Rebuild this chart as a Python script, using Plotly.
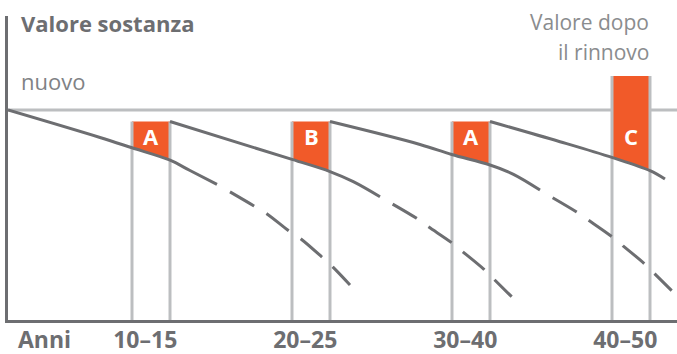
import plotly.graph_objects as go

W, H = 677, 354

# ---- data (x: schematic years from the value axis, y: asset value, 100 = new) ----
new_value = 100
block_start = [7.75, 17.75, 27.75, 37.75]
block_width = 2.375
block_top = [94.5, 94.5, 94.5, 116.2]
block_bottom_left = [82.0, 76.5, 78.8, 77.3]
block_bottom_right = [76.2, 70.7, 73.8, 71.1]
block_letters = ["A", "B", "A", "C"]
period_labels = ["10–15", "20–25", "30–40", "40–50"]

curve1_x = [0, 5.75, 7.75, 10.09, 11.375, 13.06]
curve1_y = [100, 86.9, 82.0, 76.2, 71.2, 64.6]
curve1_dash_x = [13.875, 15.375, 16.19, 17.56, 18.31, 19.69, 20.31, 21.375]
curve1_dash_y = [61.0, 54.3, 50.5, 42.4, 38.6, 29.5, 25.2, 16.7]

curve2_x = [10.125, 17.75, 20.125, 21.58, 23.25]
curve2_y = [94.5, 76.5, 70.7, 65.9, 58.7]
curve2_dash_x = [24.04, 25.54, 26.27, 27.73, 28.42, 29.75, 30.375, 31.48]
curve2_dash_y = [55.2, 48.4, 44.4, 36.8, 32.5, 24.1, 19.4, 11.1]

curve3_x = [20.125, 25.75, 27.73, 30.125, 31.56, 33.25]
curve3_y = [94.5, 83.6, 78.8, 73.8, 69.5, 61.9]
curve3_dash_x = [34.04, 35.54, 36.27, 37.69, 38.42, 39.75, 40.39, 41.48]
curve3_dash_y = [58.2, 51.4, 47.6, 40.0, 35.4, 27.0, 22.2, 14.0]

curve4_x = [30.125, 34.5, 37.79, 40.125, 41.06]
curve4_y = [94.5, 84.9, 77.3, 71.1, 67.1]

# ---- styling ----
ORANGE = "#F15A29"
DARK = "#6D6E71"
LIGHT = "#BCBEC0"
FONT = "Open Sans"

ML, MR, MT, MB = 8, 0, 16, 34
PX_PER_X = 16.0
PX_PER_Y = 2.1
x_max = (W - ML - MR) / PX_PER_X
y_max = (H - MT - MB) / PX_PER_Y


def px_to_paper(px, py):
    return (px - ML) / (W - ML - MR), (H - MB - py) / (H - MT - MB)


fig = go.Figure()

# "new" value reference line
fig.add_trace(go.Scatter(x=[0, x_max], y=[new_value, new_value], mode="lines",
                         line=dict(color=LIGHT, width=3), hoverinfo="skip"))

# orange renewal blocks
for i in range(len(block_start)):
    L = block_start[i]
    R = L + block_width
    fig.add_trace(go.Scatter(
        x=[L, R, R, L, L],
        y=[block_top[i], block_top[i], block_bottom_right[i], block_bottom_left[i], block_top[i]],
        mode="lines", fill="toself", fillcolor=ORANGE,
        line=dict(color=ORANGE, width=0), hoverinfo="skip"))

# grey vertical lines framing each block
for i in range(len(block_start)):
    L = block_start[i]
    R = L + block_width
    for xv in (L, R):
        fig.add_trace(go.Scatter(x=[xv, xv], y=[0, block_top[i]], mode="lines",
                                 line=dict(color=LIGHT, width=3), hoverinfo="skip"))

# depreciation curves
solid = [(curve1_x, curve1_y), (curve2_x, curve2_y), (curve3_x, curve3_y), (curve4_x, curve4_y)]
dashed = [(curve1_dash_x, curve1_dash_y), (curve2_dash_x, curve2_dash_y), (curve3_dash_x, curve3_dash_y)]
for xs, ys in solid:
    fig.add_trace(go.Scatter(x=xs, y=ys, mode="lines",
                             line=dict(color=DARK, width=3, shape="spline", smoothing=1.0),
                             hoverinfo="skip"))
for xs, ys in dashed:
    fig.add_trace(go.Scatter(x=xs, y=ys, mode="lines",
                             line=dict(color=DARK, width=3, shape="spline", smoothing=1.0,
                                       dash="28px,14.5px"),
                             hoverinfo="skip"))

annotations = []
# block letters
for i, letter in enumerate(block_letters):
    annotations.append(dict(x=block_start[i] + block_width / 2, y=(H - MB - 135.5) / PX_PER_Y,
                            xref="x", yref="y", text=f"<b>{letter}</b>", showarrow=False,
                            font=dict(family=FONT, size=22, color="white"),
                            xanchor="center", yanchor="middle", borderpad=0))


# texts
def add_text(text, px, py, anchor, size, color):
    xp, yp = px_to_paper(px, py)
    annotations.append(dict(x=xp, y=yp, xref="paper", yref="paper", text=text, showarrow=False,
                            font=dict(family=FONT, size=size, color=color),
                            xanchor=anchor, yanchor="middle", borderpad=0))


add_text("<b>Valore sostanza</b>", 20, 22.5, "left", 22, DARK)
add_text("nuovo", 20, 81, "left", 22, "#808285")
add_text("Valore dopo", 650, 22, "right", 21, "#8A8C8E")
add_text("il rinnovo", 650, 51.5, "right", 21, "#8A8C8E")

# x-axis labels
tick_vals = [(44.5 - ML) / PX_PER_X] + [s + block_width / 2 - 0.36 for s in block_start]
tick_text = ["<b>Anni</b>"] + [f"<b>{p}</b>" for p in period_labels]

fig.update_layout(
    width=W, height=H,
    margin=dict(l=ML, r=MR, t=MT, b=MB, autoexpand=False),
    paper_bgcolor="white", plot_bgcolor="white",
    showlegend=False,
    annotations=annotations,
    xaxis=dict(range=[0, x_max], showgrid=False, zeroline=False, showline=True,
               linecolor=DARK, linewidth=3, tickvals=tick_vals, ticktext=tick_text,
               ticks="", ticklabelstandoff=-3, automargin=False,
               tickfont=dict(family=FONT, size=23, color=DARK), fixedrange=True),
    yaxis=dict(range=[0, y_max], showgrid=False, zeroline=False, showline=True,
               linecolor=DARK, linewidth=2.5, showticklabels=False, ticks="",
               automargin=False, fixedrange=True),
)

fig.write_html("out.html", config={"displayModeBar": False},
               post_script="document.body.style.margin='0';")
